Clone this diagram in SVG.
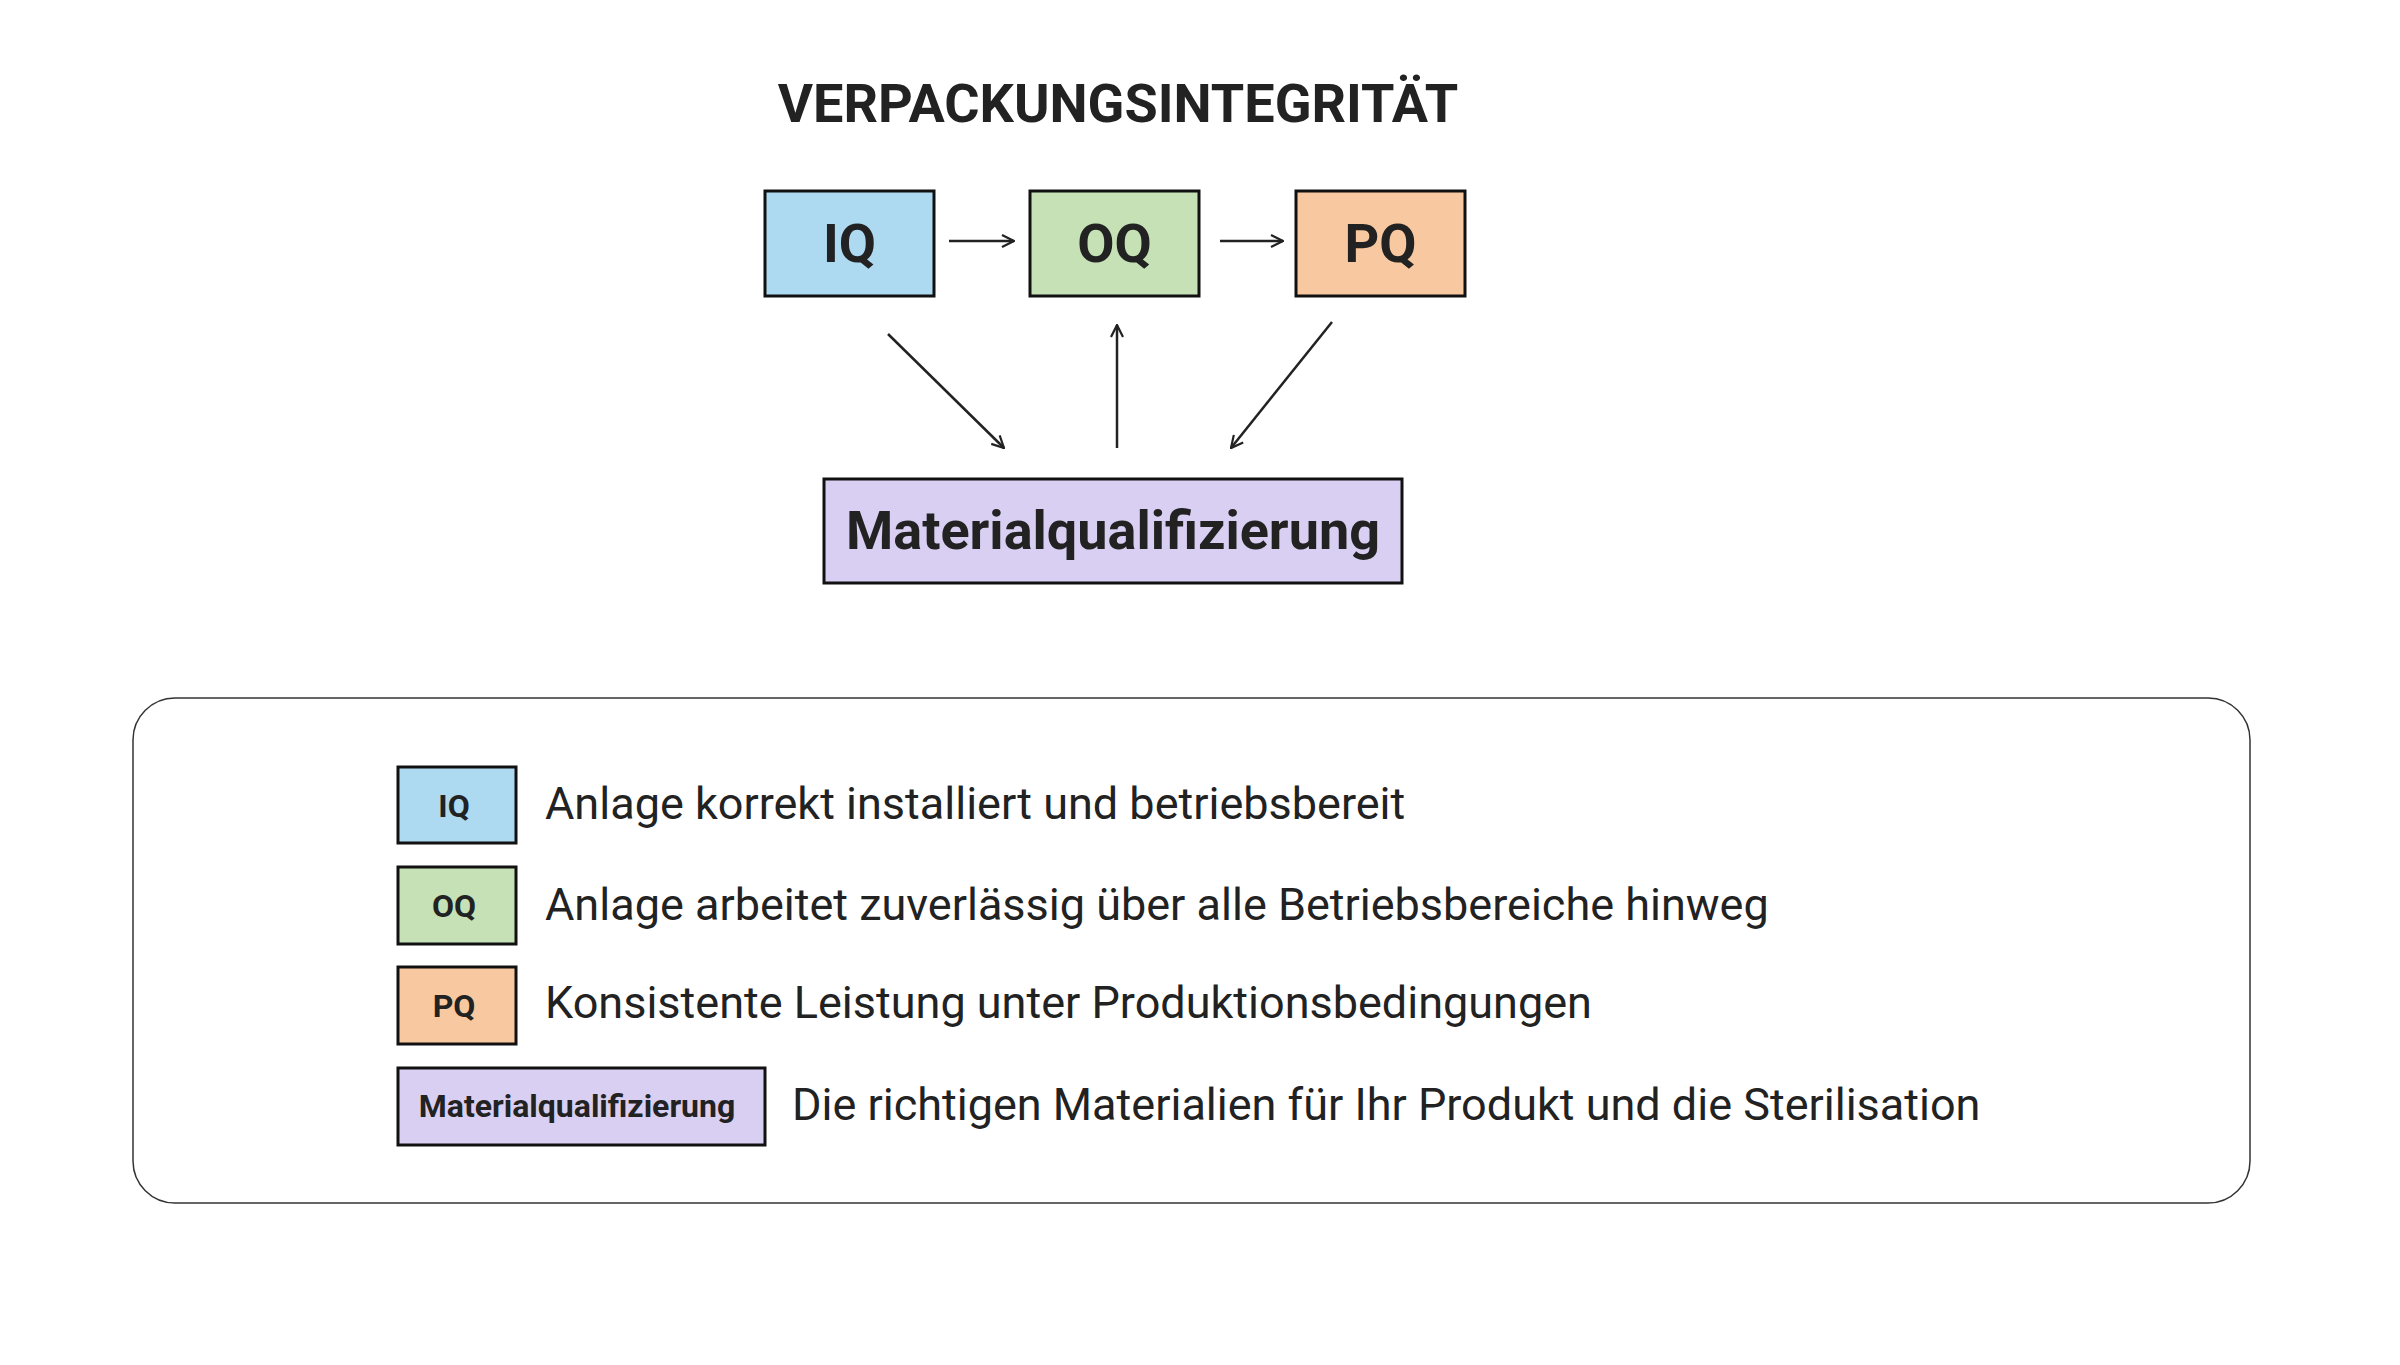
<svg xmlns="http://www.w3.org/2000/svg" width="2400" height="1365" viewBox="0 0 2400 1365">
<defs>
<marker id="arr" viewBox="0 0 14 14" refX="13" refY="7" markerWidth="14" markerHeight="14" markerUnits="userSpaceOnUse" orient="auto">
<path d="M1,1 L13,7 L1,13" fill="none" stroke="#222" stroke-width="2.2"/>
</marker>
<style>
.t{font-family:Roboto,"Liberation Sans",sans-serif;fill:#222}
.b{font-weight:bold}
.box{stroke:#111;stroke-width:3}
.iq{fill:#ADDAF1}.oq{fill:#C5E1B5}.pq{fill:#F8C8A0}.mq{fill:#D9CFF2}
.c{fill:none;stroke:#222;stroke-width:2.5;marker-end:url(#arr)}
.lg{font-size:45px}
.sm{font-size:32px}
</style>
</defs>
<rect width="2400" height="1365" fill="#fff"/>
<text class="t b" x="1118" y="122" font-size="54" text-anchor="middle">VERPACKUNGSINTEGRITÄT</text>
<g id="node-iq"><rect class="box iq" x="765" y="191" width="169" height="105"/><text class="t b" x="849.5" y="262" font-size="54" text-anchor="middle">IQ</text></g>
<g id="node-oq"><rect class="box oq" x="1030" y="191" width="169" height="105"/><text class="t b" x="1114.5" y="262" font-size="54" text-anchor="middle">OQ</text></g>
<g id="node-pq"><rect class="box pq" x="1296" y="191" width="169" height="105"/><text class="t b" x="1380.5" y="262" font-size="54" text-anchor="middle">PQ</text></g>
<g id="node-mq"><rect class="box mq" x="824" y="479" width="578" height="104"/><text class="t b" x="1113" y="549" font-size="54" text-anchor="middle">Materialqualifizierung</text></g>
<g id="connectors">
<line class="c" x1="949" y1="241" x2="1014" y2="241"/>
<line class="c" x1="1220" y1="241" x2="1283" y2="241"/>
<line class="c" x1="888" y1="334" x2="1004" y2="448"/>
<line class="c" x1="1117" y1="448" x2="1117" y2="325"/>
<line class="c" x1="1332" y1="322" x2="1231" y2="448"/>
</g>
<g id="legend">
<rect x="133" y="698" width="2117" height="505" rx="42" fill="none" stroke="#333" stroke-width="1.5"/>
<g id="legend-iq"><rect class="box iq" x="398" y="767" width="118" height="76"/><text class="t b sm" x="454" y="817" text-anchor="middle">IQ</text><text class="t lg" x="545" y="819">Anlage korrekt installiert und betriebsbereit</text></g>
<g id="legend-oq"><rect class="box oq" x="398" y="867" width="118" height="77"/><text class="t b sm" x="454" y="917" text-anchor="middle">OQ</text><text class="t lg" x="545" y="920">Anlage arbeitet zuverlässig über alle Betriebsbereiche hinweg</text></g>
<g id="legend-pq"><rect class="box pq" x="398" y="967" width="118" height="77"/><text class="t b sm" x="454" y="1017" text-anchor="middle">PQ</text><text class="t lg" x="545" y="1018">Konsistente Leistung unter Produktionsbedingungen</text></g>
<g id="legend-mq"><rect class="box mq" x="398" y="1068" width="367" height="77"/><text class="t b sm" x="577" y="1117" text-anchor="middle">Materialqualifizierung</text><text class="t lg" x="792" y="1120">Die richtigen Materialien für Ihr Produkt und die Sterilisation</text></g>
</g>
</svg>
